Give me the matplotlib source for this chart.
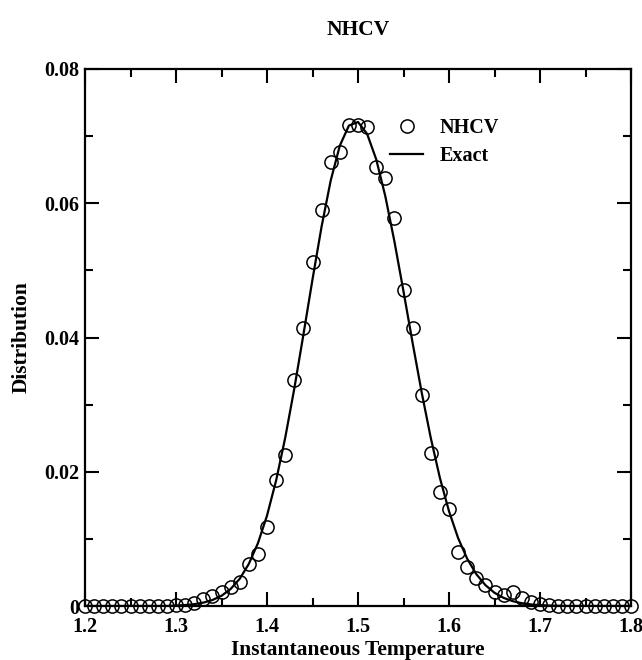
import numpy as np
import matplotlib
matplotlib.use('Agg')
import matplotlib.pyplot as plt
from matplotlib.ticker import MultipleLocator, FixedLocator

plt.rcParams['font.family'] = ['Liberation Serif', 'DejaVu Serif']
plt.rcParams['font.weight'] = 'bold'

# simulated histogram (NHCV), every 0.01 from 1.20 to 1.80
temp_sim = np.round(np.arange(1.20, 1.8001, 0.01), 2)
dist_sim = [0, 0, 0, 0, 0, 0, 0, 0, 0, 0,
            0.0001, 0.0002, 0.0004, 0.0010, 0.0015, 0.0021, 0.0028, 0.0036, 0.0062, 0.0077,
            0.0118, 0.0188, 0.0225, 0.0336, 0.0414, 0.0512, 0.0590, 0.0661, 0.0676, 0.0717,
            0.0717, 0.0714, 0.0654, 0.0638, 0.0578, 0.0471, 0.0414, 0.0314, 0.0228, 0.0170,
            0.0145, 0.0080, 0.0058, 0.0042, 0.0031, 0.0021, 0.0016, 0.0021, 0.0012, 0.0006,
            0.0003, 0.0001, 0, 0, 0, 0, 0, 0, 0, 0,
            0]

# exact distribution
temp_exact = np.round(np.arange(1.20, 1.8001, 0.01), 2)
dist_exact = [0, 0, 0, 0, 0, 0, 0, 0, 0, 0,
              0.00007, 0.00014, 0.00027, 0.00050, 0.00089, 0.00152, 0.00253, 0.00405, 0.00627, 0.00934,
              0.01346, 0.01869, 0.02505, 0.03239, 0.04042, 0.04866, 0.05654, 0.06338, 0.06857, 0.07157,
              0.07210, 0.07034, 0.06655, 0.06106, 0.05432, 0.04687, 0.03920, 0.03180, 0.02502, 0.01908,
              0.01412, 0.01012, 0.00704, 0.00475, 0.00311, 0.00197, 0.00121, 0.00072, 0.00042, 0.00023,
              0.00013, 0.00007, 0.00003, 0, 0, 0, 0, 0, 0, 0,
              0]

xticks = [1.2, 1.3, 1.4, 1.5, 1.6, 1.7, 1.8]
xtick_labels = ['1.2', '1.3', '1.4', '1.5', '1.6', '1.7', '1.8']
yticks = [0, 0.02, 0.04, 0.06, 0.08]
ytick_labels = ['0', '0.02', '0.04', '0.06', '0.08']

fig = plt.figure(figsize=(6.42, 6.6), dpi=100)
ax = fig.add_axes([85/642, 1-606/660, (631-85)/642, (606-69)/660])

ax.plot(temp_exact, dist_exact, '-', color='black', lw=1.6, label='Exact', zorder=2)
ax.plot(temp_sim, dist_sim, 'o', mfc='none', mec='black', ms=9.5, mew=1.1,
        label='NHCV', clip_on=False, zorder=3)

ax.set_xlim(1.2, 1.8)
ax.set_ylim(0, 0.08)
ax.xaxis.set_major_locator(FixedLocator(xticks))
ax.set_xticklabels(xtick_labels)
ax.xaxis.set_minor_locator(MultipleLocator(0.05))
ax.yaxis.set_major_locator(FixedLocator(yticks))
ax.set_yticklabels(ytick_labels)
ax.yaxis.set_minor_locator(MultipleLocator(0.01))
ax.tick_params(which='both', direction='in', top=True, right=True, width=1.5)
ax.tick_params(which='major', length=10, labelsize=14.5)
ax.tick_params(axis='x', which='major', pad=8)
ax.tick_params(axis='y', which='major', pad=4)
ax.tick_params(which='minor', length=6)
for s in ax.spines.values():
    s.set_linewidth(1.6)

ax.set_xlabel('Instantaneous Temperature', fontsize=15.5, fontweight='bold', labelpad=2)
ax.set_ylabel('Distribution', fontsize=15.5, fontweight='bold', labelpad=9)
fig.text((85+631)/2/642, 1-30/660, 'NHCV', ha='center', va='center',
         fontsize=15.5, fontweight='bold')

handles, labels = ax.get_legend_handles_labels()
leg = ax.legend(handles[::-1], labels[::-1], loc='upper left', bbox_to_anchor=(0.541, 0.928),
                frameon=False, fontsize=14.5, handlelength=1.6, handletextpad=0.85,
                labelspacing=0.4, borderpad=0)
for t in leg.get_texts():
    t.set_fontweight('bold')

fig.savefig('out.png', dpi=100)
